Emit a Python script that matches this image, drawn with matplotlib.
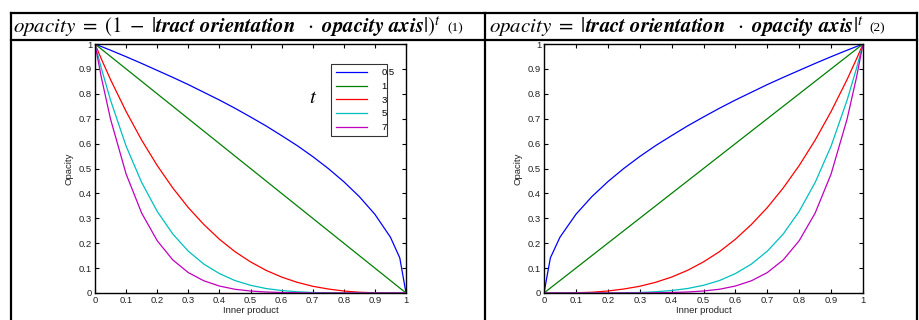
import numpy as np
import matplotlib.pyplot as plt
from matplotlib.lines import Line2D

# valores (producto interno en el eje x)
inner = [0, 0.02, 0.05, 0.1, 0.15, 0.2, 0.25, 0.3, 0.35, 0.4, 0.45, 0.5,
         0.55, 0.6, 0.65, 0.7, 0.75, 0.8, 0.85, 0.9, 0.95, 0.98, 1.0]
t_labels = ["0.5", "1", "3", "5", "7"]

# grafica (1): opacidad decreciente
izq_05 = [1, .990, .975, .949, .922, .894, .866, .837, .806, .775, .742, .707,
          .671, .632, .592, .548, .500, .447, .387, .316, .224, .141, 0]
izq_1 = [1, .98, .95, .90, .85, .80, .75, .70, .65, .60, .55, .50,
         .45, .40, .35, .30, .25, .20, .15, .10, .05, .02, 0]
izq_3 = [1, .941, .857, .729, .614, .512, .422, .343, .275, .216, .166, .125,
         .091, .064, .043, .027, .016, .008, .003, .001, 0, 0, 0]
izq_5 = [1, .904, .774, .590, .444, .328, .237, .168, .116, .078, .050, .031,
         .018, .010, .005, .002, .001, 0, 0, 0, 0, 0, 0]
izq_7 = [1, .868, .698, .478, .321, .210, .133, .082, .049, .028, .015, .008,
         .004, .002, .001, 0, 0, 0, 0, 0, 0, 0, 0]

# grafica (2): opacidad creciente
der_05 = [0, .141, .224, .316, .387, .447, .500, .548, .592, .632, .671, .707,
          .742, .775, .806, .837, .866, .894, .922, .949, .975, .990, 1]
der_1 = [0, .02, .05, .10, .15, .20, .25, .30, .35, .40, .45, .50,
         .55, .60, .65, .70, .75, .80, .85, .90, .95, .98, 1]
der_3 = [0, 0, 0, .001, .003, .008, .016, .027, .043, .064, .091, .125,
         .166, .216, .275, .343, .422, .512, .614, .729, .857, .941, 1]
der_5 = [0, 0, 0, 0, 0, 0, .001, .002, .005, .010, .018, .031,
         .050, .078, .116, .168, .237, .328, .444, .590, .774, .904, 1]
der_7 = [0, 0, 0, 0, 0, 0, 0, 0, .001, .002, .004, .008,
         .015, .028, .049, .082, .133, .210, .321, .478, .698, .868, 1]

colores = [(0, 0, 1), (0, 0.5, 0), (1, 0, 0), (0, 0.75, 0.75), (0.75, 0, 0.75)]

plt.rcParams['mathtext.fontset'] = 'stix'
plt.rcParams['font.family'] = ['Liberation Sans', 'DejaVu Sans']

fig = plt.figure(figsize=(9.19, 3.2), dpi=100)


def ejes(pos, series):
    ax = fig.add_axes(pos)
    for y, c, lab in zip(series, colores, t_labels):
        ax.plot(inner, y, color=c, lw=0.9, label=lab)
    ax.set_xlim(0, 1)
    ax.set_ylim(0, 1)
    ticks = np.round(np.arange(0, 1.01, 0.1), 1)
    ax.set_xticks(ticks)
    ax.set_yticks(ticks)
    etiquetas = ["0"] + [f"{v:.1f}" for v in ticks[1:-1]] + ["1"]
    ax.set_xticklabels(etiquetas)
    ax.set_yticklabels(etiquetas)
    ax.tick_params(direction='in', top=True, right=True, length=3, width=0.8,
                   labelsize=6.8, labelcolor='#222222', pad=2)
    for s in ax.spines.values():
        s.set_linewidth(1.0)
    ax.set_xlabel("Inner product", fontsize=6.8, labelpad=1, color='#222222')
    ax.set_ylabel("Opacity", fontsize=6.8, labelpad=4, color='#222222')
    return ax


ax1 = ejes([95/919, 1-293/320, 311/919, 249/320], [izq_05, izq_1, izq_3, izq_5, izq_7])
ax2 = ejes([544/919, 1-293/320, 319/919, 249/320], [der_05, der_1, der_3, der_5, der_7])

leg = ax1.legend(loc='upper right', bbox_to_anchor=(0.939, 0.92), borderaxespad=0,
                 fontsize=6.8, frameon=True, fancybox=False, edgecolor='black',
                 handlelength=3.3, handletextpad=0.3, labelspacing=0.5,
                 borderpad=0.45)
leg.get_frame().set_linewidth(0.8)
for txt in leg.get_texts():
    txt.set_ha('right')
    txt.set_position((12, 0))
ax1.text(0.70, 0.787, "$t$", transform=ax1.transAxes, fontsize=15,
         ha='center', va='center')

# tabla
lw = 1.6
for x in [11/919, 485/919, 917/919]:
    fig.add_artist(Line2D([x, x], [0, 1-13/320], color='black', lw=lw))
for y in [1-13/320, 1-40/320]:
    fig.add_artist(Line2D([11/919, 917/919], [y, y], color='black', lw=lw))

# encabezados: formula + numero de ecuacion justo despues
fy = 1-27/320
f1 = fig.text(13/919, fy,
              r"$opacity\ =\ (1\;-\;|\mathbfit{tract\ orientation}\ \ \cdot\ \mathbfit{opacity\ axis}|)^{t}$",
              fontsize=15, va='center', ha='left')
f2 = fig.text(489/919, fy,
              r"$opacity\ =\ |\mathbfit{tract\ orientation}\ \ \cdot\ \mathbfit{opacity\ axis}|^{t}$",
              fontsize=15, va='center', ha='left')
fig.canvas.draw()
r = fig.canvas.get_renderer()
for f, num in [(f1, "(1)"), (f2, "(2)")]:
    x1 = f.get_window_extent(r).x1
    fig.text((x1 + 6) / 919, fy - 1/320, num, fontsize=9.5,
             family='Liberation Serif', va='center')

fig.savefig("out.png", dpi=100)
